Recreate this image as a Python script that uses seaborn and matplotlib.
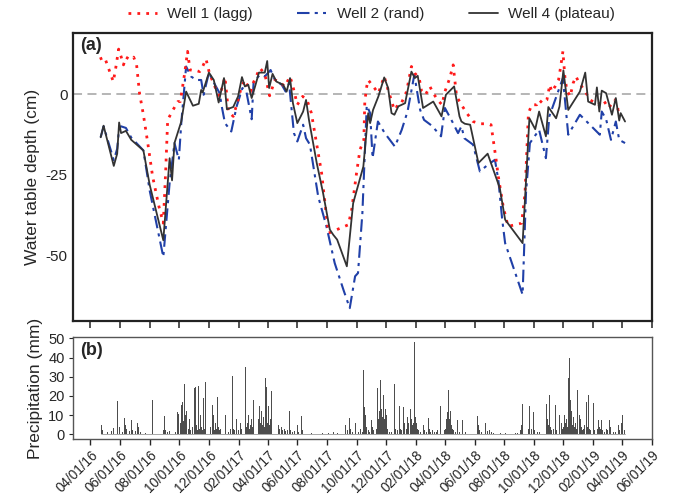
import numpy as np
import pandas as pd
import matplotlib
matplotlib.use("Agg")
import matplotlib.pyplot as plt
import matplotlib.dates as mdates
import seaborn as sns

# ---------------- data (days since 2016-04-01) ----------------
START = "2016-04-01"

well1_day = [19, 29, 42, 47, 52, 58, 63, 68, 73, 82, 89, 95, 101, 109, 118, 128, 141, 150,
             155, 159, 170, 180, 185, 194, 200, 205, 214, 225, 231, 238, 245, 256, 266,
             277, 284, 294, 304, 311, 318, 330, 335, 349, 359, 369, 380, 389, 400, 411,
             417, 426, 437, 446, 455, 462, 476, 490, 531, 538, 548, 555, 563, 565, 569,
             572, 593, 605, 613, 624, 628, 634, 641, 651, 661, 668, 677, 682, 690, 699,
             706, 715, 724, 730, 740, 747, 754, 764, 775, 788, 802, 816, 825, 835, 840,
             850, 860, 874, 888, 895, 902, 909, 919, 924, 931, 940, 946, 950, 957, 964,
             969, 973, 977, 981, 988, 994, 1000, 1005, 1021, 1029, 1046, 1056, 1067,
             1080, 1087, 1097]
well1_cm = [10.9, 11.5, 6.0, 3.9, 8.1, 14.0, 11.7, 9.1, 11.5, 10.7, 11.5, 9.1, 0.3, -6.4,
            -15.2, -25.6, -34.9, -40.1, -23.5, -8.0, -4.9, -2.3, -2.3, 6.5, 13.3, 7.5, 7.5,
            7.0, 8.6, 10.9, 6.5, 2.4, -0.7, 5.3, -5.4, -6.9, -1.8, 2.4, 4.4, 0.8, 3.4, 8.1,
            6.3, -0.5, 4.4, 3.9, 2.4, 5.5, 2.4, -3.3, -0.7, -1.8, -5.9, -12.1, -24.5, -43.2,
            -40.6, -35.9, -24.5, -17.3, -14.2, -2.3, 2.4, 4.4, 0.3, 5.5, 1.3, -4.0, -4.9,
            -2.8, -2.6, 0.8, 8.6, 6.5, 5.0, 0.8, -0.2, 2.4, 0.3, -1.8, -3.3, 0.8, 5.0, 9.1,
            -0.7, -3.3, -5.9, -8.5, -9.2, -9.2, -9.5, -19.9, -25.6, -34.9, -41.1, -40.6,
            -40.1, -30.7, -5.9, -3.3, -3.3, -1.8, -2.8, -1.8, 2.9, 0.8, 2.4, 4.4, 9.1, 13.3,
            5.5, 1.3, -0.7, 3.4, 5.5, 3.9, 0.3, -1.8, -3.3, -1.8, -4.3, -1.8, -4.9, -4.3]

well2_day = [21, 27, 48, 55, 59, 63, 73, 84, 109, 122, 150, 163, 173, 182, 187, 197, 207,
             218, 228, 233, 244, 253, 266, 271, 277, 290, 301, 313, 321, 332, 336, 349,
             359, 371, 380, 394, 402, 409, 419, 426, 438, 444, 452, 469, 486, 503, 521,
             534, 545, 551, 560, 569, 576, 581, 592, 606, 627, 641, 653, 667, 679, 687,
             703, 722, 730, 745, 757, 764, 770, 788, 802, 818, 833, 840, 848, 854, 890,
             897, 905, 924, 938, 945, 957, 973, 984, 1008, 1049, 1053, 1062, 1072, 1082,
             1089, 1101]
well2_cm = [-13.4, -10.0, -20.5, -17.0, -10.5, -10.0, -10.5, -13.5, -17.5, -30.0, -50.6,
            -27.6, -15.2, -20.4, -9.0, 8.6, 5.5, 4.4, 4.4, -0.2, 6.7, 3.9, 0.3, -4.3, -9.0,
            -11.6, -3.8, 1.9, 0.8, -7.8, 3.9, 6.0, 5.5, 7.5, 4.4, 2.9, 0.8, 3.4, -12.1,
            -14.7, -9.5, -13.7, -15.7, -31.8, -41.1, -52.5, -60.8, -66.5, -56.6, -55.6,
            -37.0, -3.5, -5.9, -19.9, -8.5, -12.1, -16.3, -11.1, -5.4, 6.0, -4.9, -8.0,
            -9.8, -13.1, -4.3, -8.5, -12.1, -10.0, -13.7, -15.7, -24.0, -22.0, -20.4,
            -26.6, -39.0, -46.3, -62.3, -30.7, -15.2, -11.1, -19.9, -6.9, -1.8, 5.0,
            -12.6, -6.4, -12.6, -5.4, -7.8, -14.2, -8.5, -14.2, -15.2]

well4_day = [21, 27, 48, 55, 59, 63, 73, 84, 109, 122, 150, 163, 168, 173, 187, 197, 211,
             223, 228, 231, 244, 254, 264, 275, 281, 294, 304, 312, 318, 325, 332, 339,
             347, 359, 364, 368, 375, 383, 397, 404, 411, 417, 426, 438, 444, 450, 466,
             479, 493, 500, 508, 528, 541, 562, 572, 576, 582, 593, 605, 613, 620, 626,
             634, 648, 661, 668, 674, 685, 706, 723, 732, 749, 760, 764, 771, 782, 799,
             818, 837, 843, 854, 890, 904, 916, 924, 938, 943, 959, 966, 974, 984, 1008,
             1019, 1025, 1039, 1043, 1048, 1053, 1062, 1074, 1082, 1089, 1092, 1101]
well4_cm = [-13.4, -9.8, -22.3, -18.5, -8.8, -12.1, -11.4, -14.2, -17.5, -28.2, -45.4,
            -19.9, -26.8, -15.2, -8.5, 0.8, -3.6, -3.0, 1.3, 0.5, 6.7, 4.4, -2.6, 5.0,
            -4.7, -4.0, -0.7, 5.3, 2.4, 2.9, -1.2, 2.4, 6.7, 6.7, 10.3, 1.9, 6.3, 3.9,
            2.9, 0.8, 5.0, -2.8, -9.0, -5.4, -1.8, -8.0, -21.4, -30.7, -42.1, -43.7,
            -45.2, -53.5, -33.9, -22.5, -5.9, -9.0, -4.9, -0.7, 5.2, 1.9, -5.9, -6.4,
            -3.8, -2.8, 7.0, 5.0, 5.7, -4.3, -2.3, -6.9, -0.2, 2.4, -6.9, -8.5, -9.2,
            -9.5, -21.4, -18.5, -26.6, -29.2, -39.0, -46.3, -7.5, -10.9, -5.4, -13.1,
            -4.0, -7.5, -3.8, 7.4, -4.9, 0.8, 6.7, -2.3, -3.3, 2.1, -5.4, 1.1, 0.3, -6.4,
            -1.2, -8.2, -5.9, -8.5]

precip_day = [
    22, 24, 35, 44, 48, 56, 60, 66, 70, 72, 74, 80, 84, 86, 93, 97, 99, 103, 108, 114, 127,
    150, 152, 153, 155, 158, 163, 168, 170, 175, 180, 182, 185, 186, 188, 189, 191, 192,
    194, 195, 196, 197, 198, 199, 201, 202, 204, 206, 207, 209, 210, 211, 213, 215, 216,
    217, 219, 220, 222, 223, 225, 227, 229, 231, 233, 234, 235, 237, 238, 240, 242, 244,
    246, 248, 251, 252, 254, 256, 258, 260, 262, 264, 266, 268, 271, 273, 275, 278, 281,
    285, 288, 292, 293, 295, 297, 300, 302, 305, 308, 309, 311, 314, 316, 319, 320, 322,
    324, 326, 328, 330, 332, 334, 336, 337, 339, 341, 343, 345, 346, 348, 350, 352, 354,
    356, 358, 361, 362, 364, 366, 368, 370, 373, 374, 376, 378, 380, 382, 384, 386, 388,
    390, 393, 396, 399, 402, 405, 410, 412, 416, 420, 426, 428, 434, 436, 440, 442, 448,
    455, 478, 485, 490, 500, 508, 518, 522, 526, 530, 534, 536, 540, 546, 549, 552, 556,
    560, 563, 565, 567, 569, 572, 575, 579, 581, 583, 586, 588, 589, 591, 592, 593, 595,
    596, 598, 599, 601, 603, 604, 605, 607, 609, 611, 613, 616, 620, 623, 626, 627, 629,
    632, 636, 638, 640, 644, 646, 648, 651, 653, 655, 656, 658, 659, 661, 663, 665, 668,
    669, 671, 673, 675, 680, 685, 686, 688, 692, 696, 698, 701, 705, 709, 712,
    715, 718, 721, 722, 724, 726, 729, 731, 734, 736, 737, 738, 740, 742, 744, 746, 748,
    751, 756, 760, 767, 772, 790, 797, 799, 801, 805, 814, 817, 822, 826, 830, 845, 855,
    860, 870, 875, 880,
    886, 888, 890, 891, 893, 895, 897, 899, 902, 904, 905, 908, 912, 913, 915, 920, 925,
    930, 934, 936, 938, 940, 941, 943, 945, 946, 948, 950, 953, 957, 958, 960, 963, 966,
    967, 969, 970, 972, 974, 976, 978, 980, 982, 984, 985, 986, 987, 988, 989, 991, 993,
    995, 997, 999, 1001, 1003, 1004, 1006, 1007, 1009, 1011, 1013, 1015, 1018, 1022, 1023,
    1026, 1027, 1030, 1033, 1036, 1038, 1041, 1044, 1046, 1048, 1050, 1053, 1055, 1058,
    1062, 1065, 1069, 1071, 1074, 1078, 1082, 1087, 1090, 1094, 1096, 1097, 1099, 1100]
precip_mm = [
    4.8, 2, 1, 1.5, 3.1, 17.5, 4, 1, 8.3, 4.8, 2.5, 1.5, 7.5, 2, 1.5, 5.7, 4, 1, 1, 0.8, 17.9,
    2, 9.7, 5.9, 2, 1, 1.5, 9.7, 1.5, 1, 11.8, 10.4, 4, 6, 15.3, 16.8, 7, 3,
    26, 10, 4, 8, 12, 16, 5, 3, 8, 2, 6, 21.9, 4, 19.5, 3, 24, 6,
    24.6, 5, 2, 25.3, 8, 3, 10, 4, 2, 18.8, 6, 3, 27.4, 5, 13, 2, 6,
    3, 4, 15.3, 3, 10, 2, 6, 3, 19.3, 4, 2, 3, 15.4, 5, 2, 10, 2,
    1, 3, 30.5, 15, 3, 2, 8, 4, 2, 14.8, 6, 3, 31, 5, 34.9, 8, 4,
    6, 10, 3, 5, 8, 4, 18, 6, 9, 5, 3, 14, 8, 15, 6, 12, 5,
    9, 4, 29.5, 24.6, 6, 15, 5, 8, 22.5, 6, 13, 4, 8.5, 3, 6, 2, 5,
    3, 4, 2, 3, 1.5, 2, 12.3, 2, 1, 1.5, 4.8, 1, 9.7, 2, 19.3, 1, 0.5,
    0.5, 0.8, 1, 0.6, 1.2, 0.6, 3, 1, 5, 2, 8.3, 3, 1, 6, 2, 1, 3,
    1, 33.5, 14, 10, 4, 2, 1, 7.5, 4, 2, 11, 5, 3, 24, 23, 8, 12,
    6, 28.3, 13, 9, 20.4, 19.5, 8, 13, 10, 3, 2, 1, 1, 2, 26, 5, 3,
    2, 14.8, 3, 2, 14.4, 6, 4, 3, 9.2, 6, 4, 30.9, 13, 8, 5, 6, 48.2,
    9, 6, 3, 2, 1, 11, 5, 2, 1, 8.3, 3, 1, 2, 1, 1,
    2, 7, 14.8, 13, 3, 5, 2, 3, 8, 11.5, 23, 19.6, 8, 12, 5, 3, 2,
    1, 7.5, 1, 7.5, 1, 1, 9.5, 5, 2, 1, 5.9, 1.5, 2, 1, 0.5, 0.5, 0.5,
    5.9, 1, 0.8, 0.5,
    2, 5, 15.6, 8, 3, 11, 5, 2, 3, 14.8, 6, 3, 11.5, 4, 2, 1, 1,
    2, 3, 12, 6, 16, 8, 5, 20.5, 10, 4, 2, 3, 15.3, 4, 2, 3, 10,
    3, 37, 6, 3, 4, 10, 6, 8, 4, 29.5, 12, 39.6, 21.5, 18, 8, 12, 5,
    9, 4, 6, 3, 23, 8, 46.2, 10, 8, 4, 2, 3, 5, 17, 4,
    20.4, 3, 2, 1, 16.1, 2, 1, 3, 7.5, 4, 3, 7.5, 2, 1,
    3, 2, 7.5, 4, 3, 1, 1, 5, 2, 6, 10, 11.5, 4, 2]

tick_dates = pd.date_range("2016-04-01", "2019-06-01", freq="2MS")
x_left, x_right = "2016-02-25", "2019-06-01"

# ---------------- build frames ----------------
t0 = pd.Timestamp(START)
def to_dates(days):
    return t0 + pd.to_timedelta(days, unit="D")

w1 = pd.DataFrame({"date": to_dates(well1_day), "depth": well1_cm})
w2 = pd.DataFrame({"date": to_dates(well2_day), "depth": well2_cm})
w4 = pd.DataFrame({"date": to_dates(well4_day), "depth": well4_cm})
pr = pd.DataFrame({"date": to_dates(precip_day), "mm": precip_mm})

# ---------------- style ----------------
sns.set_style("ticks")
plt.rcParams["font.family"] = ["Liberation Sans", "DejaVu Sans"]
plt.rcParams["axes.unicode_minus"] = False

fig = plt.figure(figsize=(6.74, 4.98), dpi=100)
ax1 = fig.add_axes([0.1083, 0.3554, 0.8587, 0.5783])
ax2 = fig.add_axes([0.1083, 0.1179, 0.8587, 0.2054], sharex=ax1)

red = "#ff1a1a"
blue = "#2040a8"
black = "#333333"

ax1.axhline(0, color="#b0b0b0", linestyle=(0, (5, 3)), linewidth=1.3, zorder=1)
sns.lineplot(data=w1, x="date", y="depth", ax=ax1, color=red, linewidth=2.0,
             linestyle=(0, (1, 2.2)), label="Well 1 (lagg)", zorder=3)
sns.lineplot(data=w2, x="date", y="depth", ax=ax1, color=blue, linewidth=1.5,
             linestyle=(0, (6, 2.5, 1.5, 2.5)), label="Well 2 (rand)", zorder=2)
sns.lineplot(data=w4, x="date", y="depth", ax=ax1, color=black, linewidth=1.3,
             label="Well 4 (plateau)", zorder=4)

ax1.set_ylim(-70.5, 19)
ax1.set_yticks([0, -25, -50])
ax1.set_yticklabels(["0", "-25", "-50"])
ax1.set_ylabel("Water table depth (cm)", fontsize=12.5)
ax1.set_xlabel("")
ax1.tick_params(axis="x", labelbottom=False, length=5, width=1.2, color="#333333")
ax1.tick_params(axis="y", labelsize=11, length=0, pad=4)
for s in ax1.spines.values():
    s.set_color("#222222")
    s.set_linewidth(1.6)
ax1.text(0.012, 0.985, "(a)", transform=ax1.transAxes, fontsize=13,
         fontweight="bold", va="top", ha="left")

handles, labels = ax1.get_legend_handles_labels()
ax1.get_legend().remove()
fig.legend(handles, labels, loc="center", bbox_to_anchor=(0.551, 0.972), ncol=3,
           frameon=False, fontsize=11, handlelength=1.9, columnspacing=2.9,
           handletextpad=0.7)

# precipitation
ax2.bar(pr["date"], pr["mm"], width=1.6, color="#4d4d4d", linewidth=0, zorder=2)
ax2.plot([pr["date"].min(), pr["date"].max()], [0, 0], color="#999999",
         linewidth=0.6, zorder=1)
ax2.set_ylim(-2.6, 50.7)
ax2.set_yticks([0, 10, 20, 30, 40, 50])
ax2.set_ylabel("Precipitation (mm)", fontsize=12.5)
ax2.set_xlabel("")
ax2.tick_params(axis="y", labelsize=10.5, length=3, pad=3)
ax2.tick_params(axis="x", labelsize=9.8, length=4, width=1.0, pad=2)
for s in ax2.spines.values():
    s.set_color("#555555")
    s.set_linewidth(1.0)
ax2.text(0.012, 0.95, "(b)", transform=ax2.transAxes, fontsize=13,
         fontweight="bold", va="top", ha="left")

ax2.set_xlim(pd.Timestamp(x_left), pd.Timestamp(x_right))
ax2.set_xticks(tick_dates)
ax2.xaxis.set_major_formatter(mdates.DateFormatter("%m/%d/%y"))
for lab in ax2.get_xticklabels():
    lab.set_rotation(45)
    lab.set_ha("right")
    lab.set_va("top")
    lab.set_rotation_mode("anchor")

fig.savefig("out.png", dpi=100, facecolor="white")
